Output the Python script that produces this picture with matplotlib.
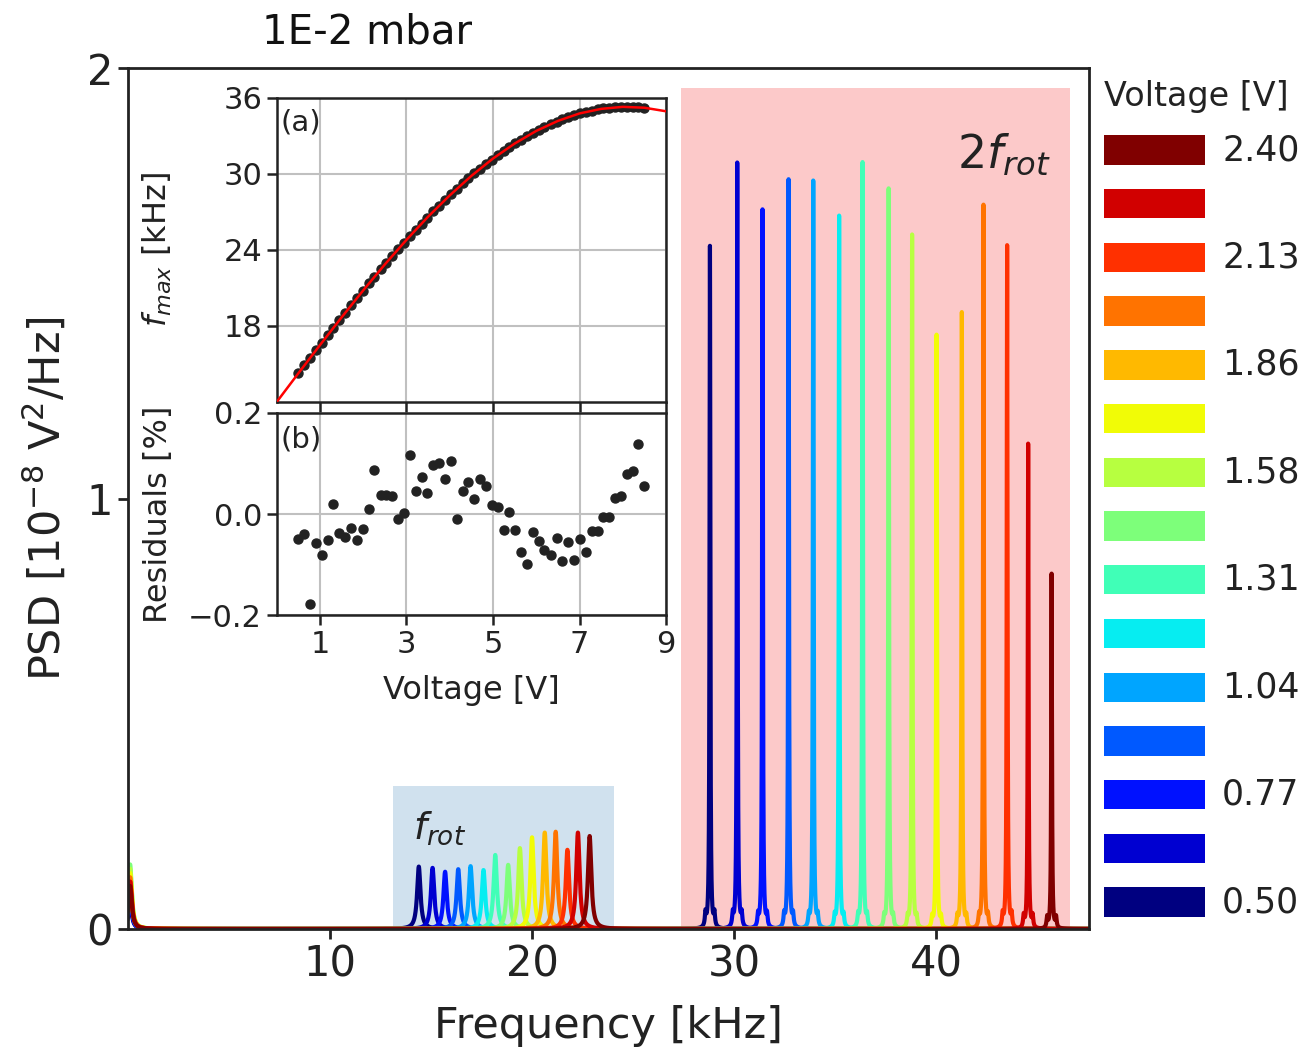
import numpy as np
import matplotlib.pyplot as plt

# Spannungen (Legende) und Peak-Parameter der 15 Spektren
voltages = [0.50, 0.64, 0.77, 0.91, 1.04, 1.18, 1.31, 1.45, 1.58, 1.72, 1.86, 1.99, 2.13, 2.26, 2.40]
volt_labels = ['0.50', '', '0.77', '', '1.04', '', '1.31', '', '1.58', '', '1.86', '', '2.13', '', '2.40']

f_rot = [14.40, 15.08, 15.70, 16.35, 16.96, 17.60, 18.18, 18.82, 19.40, 20.00,
         20.63, 21.17, 21.75, 22.27, 22.85]
h_rot = [0.145, 0.142, 0.133, 0.139, 0.146, 0.137, 0.172, 0.149, 0.188, 0.213,
         0.224, 0.226, 0.184, 0.224, 0.216]
f_2rot = [28.80, 30.15, 31.40, 32.69, 33.91, 35.19, 36.35, 37.64, 38.80, 40.01,
          41.26, 42.33, 43.50, 44.54, 45.70]
h_2rot = [1.586, 1.781, 1.671, 1.741, 1.738, 1.657, 1.782, 1.721, 1.613, 1.380,
          1.433, 1.683, 1.588, 1.127, 0.825]
h_side = [0.030, 0.028, 0.026, 0.026, 0.025, 0.024, 0.024, 0.022, 0.022, 0.022,
          0.024, 0.024, 0.028, 0.026, 0.024]
h_low = [0.06, 0.07, 0.08, 0.09, 0.10, 0.11, 0.12, 0.15, 0.14, 0.13,
         0.12, 0.12, 0.11, 0.11, 0.10]

# Inset: f_max gegen Spannung, Fit und Residuen
v_meas = [0.50, 0.64, 0.77, 0.91, 1.04, 1.18, 1.31, 1.45, 1.58, 1.72,
          1.86, 1.99, 2.13, 2.26, 2.40, 2.53, 2.67, 2.81, 2.94, 3.08,
          3.21, 3.35, 3.48, 3.62, 3.75, 3.89, 4.03, 4.16, 4.30, 4.43,
          4.57, 4.70, 4.84, 4.97, 5.11, 5.25, 5.38, 5.52, 5.65, 5.79,
          5.92, 6.06, 6.19, 6.33, 6.47, 6.60, 6.74, 6.87, 7.01, 7.14,
          7.28, 7.42, 7.55, 7.69, 7.82, 7.96, 8.09, 8.23, 8.36, 8.50]
f_max = [14.26, 14.88, 15.47, 16.09, 16.67, 17.28, 17.86, 18.47, 19.03, 19.63,
         20.22, 20.77, 21.36, 21.89, 22.46, 22.98, 23.53, 24.08, 24.58, 25.10,
         25.59, 26.09, 26.56, 27.04, 27.49, 27.96, 28.41, 28.82, 29.26, 29.65,
         30.05, 30.42, 30.80, 31.14, 31.49, 31.83, 32.12, 32.43, 32.71, 33.01,
         33.24, 33.50, 33.72, 33.94, 34.14, 34.32, 34.49, 34.64, 34.79, 34.90,
         35.01, 35.10, 35.17, 35.23, 35.26, 35.29, 35.30, 35.29, 35.27, 35.23]
resid = [-0.049, -0.039, -0.178, -0.058, -0.081, -0.052, 0.020, -0.038, -0.046, -0.028,
         -0.052, -0.029, 0.009, 0.088, 0.037, 0.037, 0.036, -0.009, 0.002, 0.116,
         0.045, 0.074, 0.042, 0.098, 0.101, 0.070, 0.105, -0.010, 0.045, 0.064,
         0.030, 0.070, 0.055, 0.017, 0.014, -0.031, 0.003, -0.031, -0.075, -0.099,
         -0.036, -0.054, -0.072, -0.082, -0.048, -0.094, -0.056, -0.092, -0.050, -0.076,
         -0.033, -0.033, -0.006, -0.005, 0.032, 0.035, 0.080, 0.085, 0.138, 0.056]
v_fit = [0.0, 0.5, 1.0, 1.5, 2.0, 2.5, 3.0, 3.5, 4.0, 4.5,
         5.0, 5.5, 6.0, 6.5, 7.0, 7.5, 8.0, 8.5, 9.0]
f_fit = [12.00, 14.26, 16.49, 18.68, 20.81, 22.86, 24.80, 26.63, 28.31, 29.85,
         31.22, 32.40, 33.40, 34.19, 34.78, 35.14, 35.30, 35.23, 34.95]

colors = plt.cm.jet(np.linspace(0, 1, len(voltages)))


def lorentz(x, x0, h, g):
    return h * g**2 / ((x - x0)**2 + g**2)


fig = plt.figure(figsize=(13.07, 10.49), dpi=100)
ax = fig.add_axes([0.0977, 0.1144, 0.7355, 0.8205])

# Hintergrundbereiche
ax.fill_between([13.14, 24.05], 0, 0.333, color='#d0e1ee', lw=0, zorder=0)
ax.fill_between([27.36, 46.60], 0, 1.954, color='#fcc9c9', lw=0, zorder=0)

freq = np.linspace(0, 47.6, 40000)
for i in range(len(voltages)):
    psd = (lorentz(freq, 0.12, h_low[i], 0.10)
           + lorentz(freq, f_rot[i], h_rot[i], 0.10)
           + lorentz(freq, f_2rot[i], h_2rot[i], 0.022)
           + lorentz(freq, f_2rot[i] - 0.22, h_side[i], 0.035)
           + lorentz(freq, f_2rot[i] + 0.22, h_side[i], 0.035))
    ax.plot(freq, psd, color=colors[i], lw=3, zorder=2)

ax.text(14.1, 0.235, r'$f_{rot}$', fontsize=27, va='center', ha='left', color='#222222')
ax.text(41.0, 1.80, r'$2f_{rot}$', fontsize=33, va='center', ha='left', color='#222222')

ax.set_xlim(0, 47.55)
ax.set_ylim(0, 2)
ax.set_xticks([10, 20, 30, 40])
ax.set_yticks([0, 1, 2])
ax.tick_params(labelsize=30, length=7, width=2, colors='#222222')
for s in ax.spines.values():
    s.set_linewidth(2)
    s.set_color('#222222')
ax.set_xlabel('Frequency [kHz]', fontsize=31, color='#222222', labelpad=14)
ax.set_ylabel(r'PSD [$10^{-8}$ V$^2$/Hz]', fontsize=31, color='#222222', labelpad=12)
fig.text(262 / 1307, 1 - 44 / 1049, '1E-2 mbar', fontsize=29, color='#111111',
         va='baseline', ha='left')

# Inset (a)
axa = fig.add_axes([0.2117, 0.6168, 0.2979, 0.2898])
axa.grid(True, color='#c0c0c0', lw=1.5)
axa.set_axisbelow(True)
axa.plot(v_meas, f_max, 'o', color='#222222', ms=6.5, zorder=3)
axa.plot(v_fit, f_fit, color='red', lw=1.8, zorder=4)
axa.set_xlim(0, 9)
axa.set_ylim(12, 36)
axa.set_xticks([1, 3, 5, 7, 9])
axa.set_yticks([18, 24, 30, 36])
axa.tick_params(labelbottom=False, labelsize=22, length=7, width=1.8, colors='#222222')
axa.set_ylabel(r'$f_{max}$ [kHz]', fontsize=23, color='#222222')
axa.yaxis.set_label_coords(-0.265, 0.5)
axa.text(0.01, 0.965, '(a)', transform=axa.transAxes, fontsize=21, va='top', ha='left',
         color='#222222')

# Inset (b)
axb = fig.add_axes([0.2117, 0.4137, 0.2979, 0.1926])
axb.grid(True, color='#c0c0c0', lw=1.5)
axb.set_axisbelow(True)
axb.plot(v_meas, resid, 'o', color='#222222', ms=6.5, zorder=3)
axb.set_xlim(0, 9)
axb.set_ylim(-0.2, 0.2)
axb.set_xticks([1, 3, 5, 7, 9])
axb.set_yticks([-0.2, 0.0, 0.2])
axb.tick_params(labelsize=22, length=7, width=1.8, colors='#222222')
axb.set_xlabel('Voltage [V]', fontsize=23, color='#222222', labelpad=12)
axb.set_ylabel('Residuals [%]', fontsize=23, color='#222222')
axb.yaxis.set_label_coords(-0.265, 0.5)
axb.text(0.01, 0.94, '(b)', transform=axb.transAxes, fontsize=21, va='top', ha='left',
         color='#222222')
for a in (axa, axb):
    for s in a.spines.values():
        s.set_linewidth(1.8)
        s.set_color('#222222')

# Legende als Farbblöcke
axl = fig.add_axes([0.8447, 0.1145, 0.0773, 0.7681])
for i in range(len(voltages)):
    axl.barh(i, 1, height=0.546, color=colors[i])
    axl.text(1.17, i, volt_labels[i], fontsize=25, va='center', ha='left', color='#222222')
axl.text(0.0, 1.033, 'Voltage [V]', transform=axl.transAxes, fontsize=24,
         va='center', ha='left', color='#222222')
axl.set_xlim(0, 1)
axl.set_ylim(-0.5, len(voltages) - 0.5)
axl.axis('off')

fig.savefig('out.png', dpi=100)
